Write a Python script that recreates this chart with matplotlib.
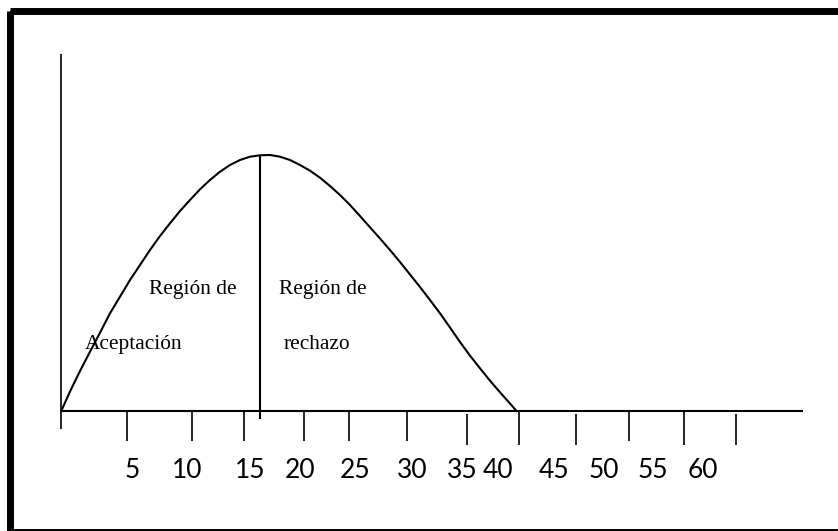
import matplotlib
matplotlib.use("Agg")
import matplotlib.pyplot as plt
from matplotlib.patches import Rectangle

# Curve (pixel coordinates of the diagram)
curve_x = [61.5, 70, 80, 90, 100, 110, 120, 130, 140, 150, 160, 170, 180, 190, 200,
           210, 220, 230, 240, 250, 260, 270, 280, 290, 300, 310, 320, 330, 340,
           350, 360, 370, 380, 390, 400, 410, 420, 430, 440, 450, 460, 470, 480,
           490, 500, 510, 516.5]
curve_y = [410.5, 391.5, 371, 351.7, 332.7, 313.3, 296.7, 280, 265, 250, 236,
           223.3, 211, 200, 189.3, 180, 171.7, 165, 160, 156.7, 155.3, 155, 156.7,
           160, 165, 170.7, 177.7, 186, 195, 205, 216, 227.3, 238.5, 250, 262,
           274.5, 287, 300, 313.3, 327.5, 342, 355.7, 368.3, 380.7, 392.3, 403.5,
           411]

# Tick marks below the axis
tick_x = [127.3, 192.3, 244, 304.3, 349.3, 406.7, 466.7, 518.7, 576.3, 628.7, 683.7, 736]
tick_top = [410.7, 410.7, 410.7, 410.7, 410.7, 410.7, 414, 410.7, 414, 410.7, 410.7, 414]
tick_bottom = [440.7, 440.7, 440.7, 440.7, 440.7, 440.7, 445, 445, 445, 441, 445, 445]

# Tick labels and their positions
tick_labels = ["5", "10", "15", "20", "25", "30", "35", "40", "45", "50", "55", "60"]
label_x = [131.7, 186.7, 250, 300, 355, 411.7, 461.7, 497.7, 554, 604, 653, 702.7]

# Region texts
region_texts = ["Región de", "Aceptación", "Región de", "rechazo"]
region_x = [193, 134, 323, 317]
region_y = [294, 349, 294, 349]

W, H = 838, 531
fig = plt.figure(figsize=(W / 100, H / 100), dpi=100)
ax = fig.add_axes([0, 0, 1, 1])
ax.set_xlim(0, W)
ax.set_ylim(H, 0)
ax.axis("off")

lw = 1.5
# frame
ax.add_patch(Rectangle((9.5, 11), 845, 521, fill=False, edgecolor="black", linewidth=5))

# axes lines
ax.plot([61, 61], [54, 429], color="black", lw=1.2, solid_capstyle="butt")
ax.plot([61, 803], [410.5, 410.5], color="black", lw=lw, solid_capstyle="butt")

# curve
ax.plot(curve_x, curve_y, color="black", lw=lw, solid_joinstyle="round")

# divider
ax.plot([260, 260], [155.5, 419], color="black", lw=lw, solid_capstyle="butt")

for x, t, b in zip(tick_x, tick_top, tick_bottom):
    ax.plot([x, x], [t, b], color="black", lw=1.2, solid_capstyle="butt")

for lab, x in zip(tick_labels, label_x):
    ax.text(x, 470.5, lab, ha="center", va="center", fontsize=19, family="Lato")

for txt, x, y in zip(region_texts, region_x, region_y):
    ax.text(x, y, txt, ha="center", va="baseline", fontsize=15.4, family="Liberation Serif")

fig.savefig("out.png", dpi=100)
